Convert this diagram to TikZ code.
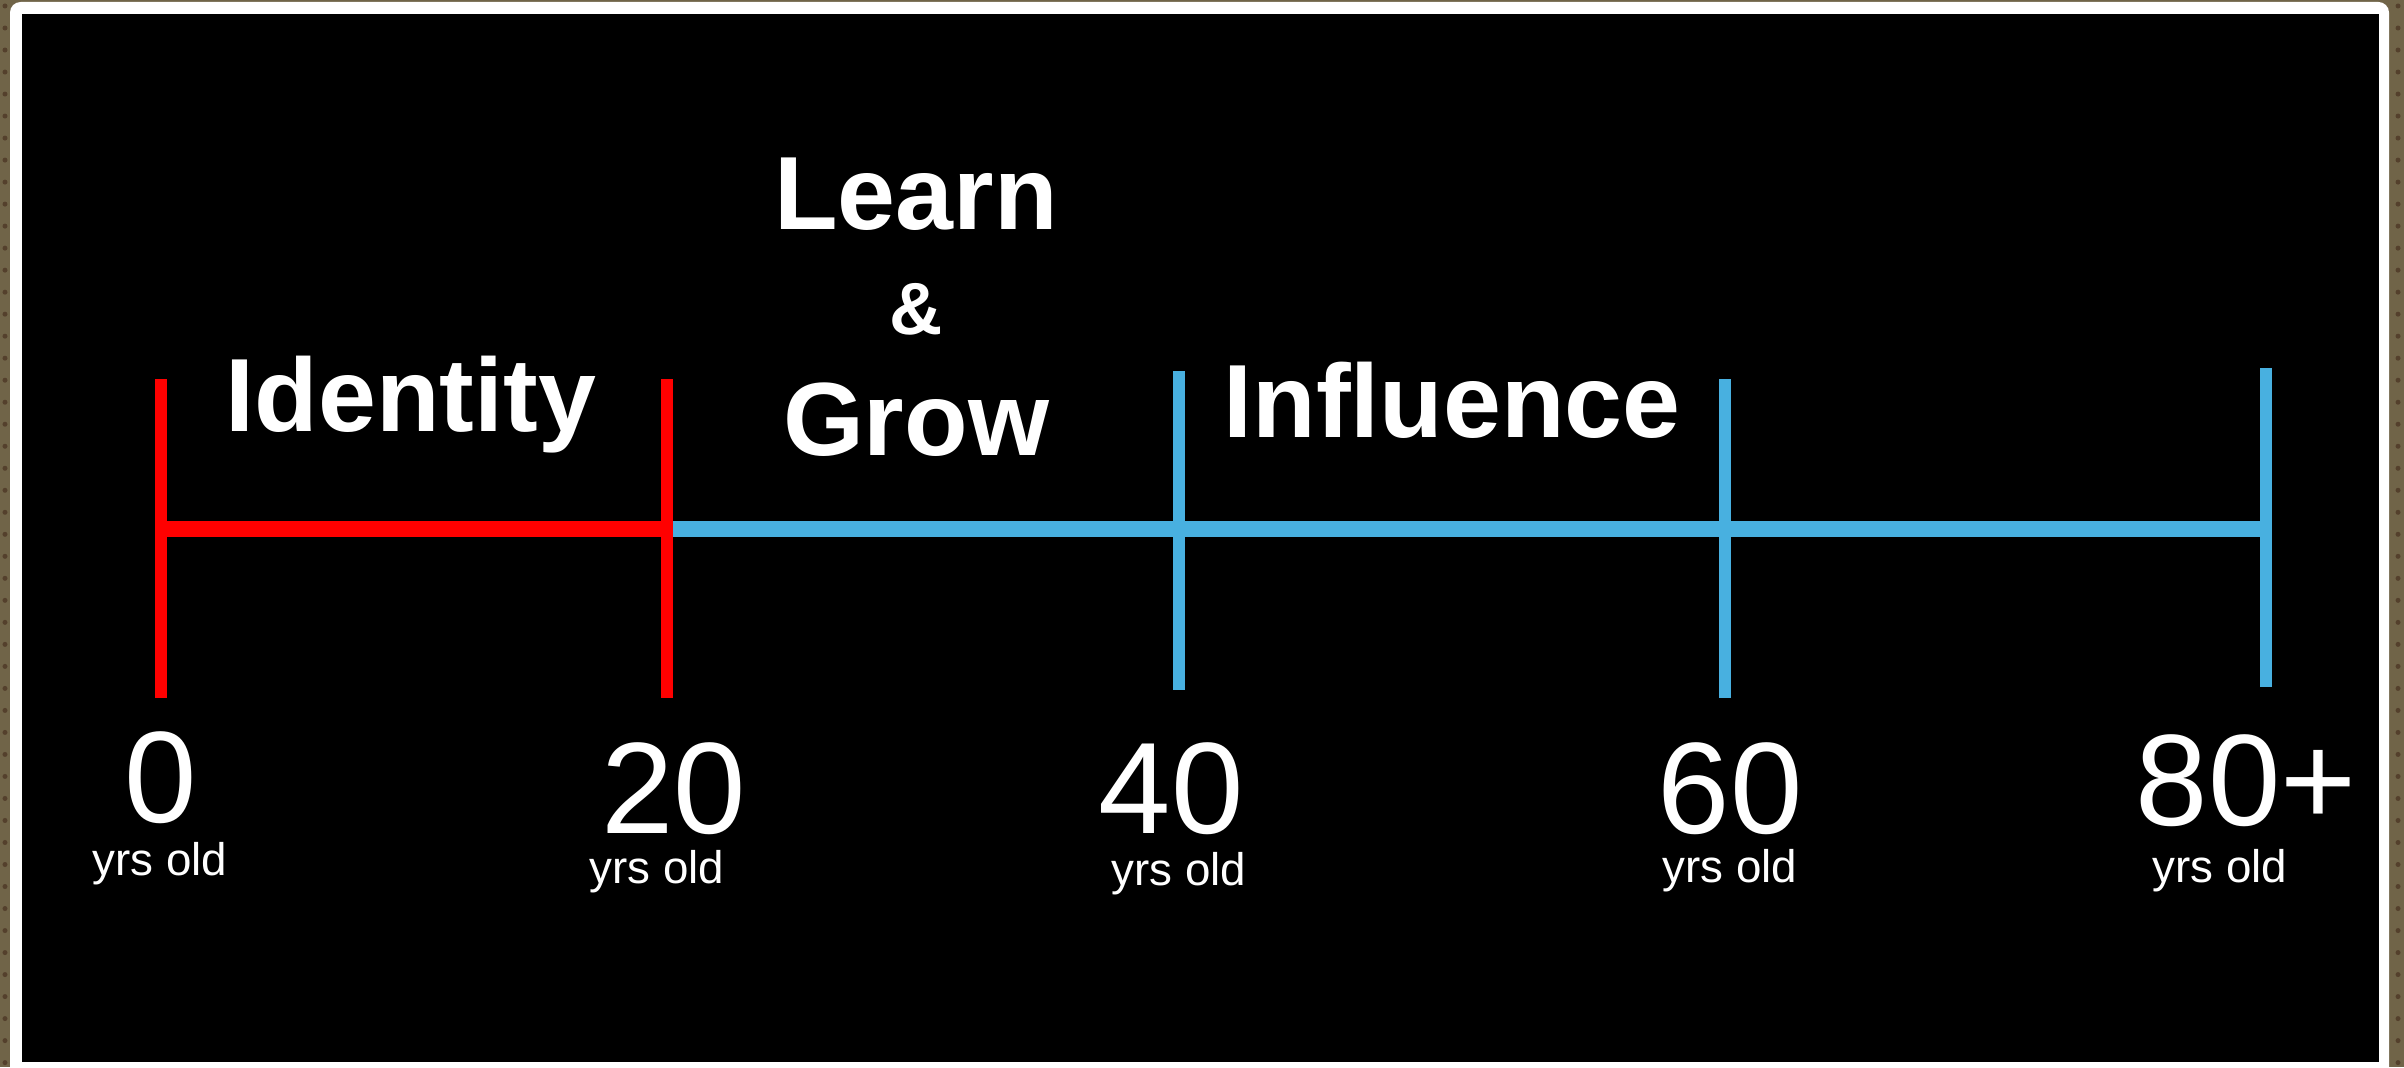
\documentclass[tikz,border=0pt]{standalone}
\usepackage{fontspec}
\setmainfont{Liberation Sans}
\usepackage{xcolor}
\definecolor{lifered}{RGB}{255,0,0}
\definecolor{lifeblue}{RGB}{72,176,224}
\definecolor{cork}{RGB}{112,100,72}
\definecolor{corkdot}{RGB}{84,64,44}

\begin{document}
\begin{tikzpicture}[x=0.01cm,y=-0.01cm,
  head/.style={text=white,font=\bfseries\fontsize{29.6}{30}\selectfont,anchor=base,inner sep=0pt},
  amp/.style={text=white,font=\bfseries\fontsize{21}{22}\selectfont,anchor=base,inner sep=0pt},
  age/.style={text=white,font=\fontsize{37}{38}\selectfont,anchor=base,inner sep=0pt},
  yrs/.style={text=white,font=\fontsize{13}{14}\selectfont,anchor=base,inner sep=0pt},
  bar/.style={line width=0.15cm},
  tick/.style={line width=0.12cm}]
\useasboundingbox (0,0) rectangle (2404,1067);
% board and frame
\fill[cork] (0,0) rectangle (2404,1067);
\draw[corkdot,line width=0.05cm,line cap=round,dash pattern=on 0pt off 0.22cm] (5,6) -- (5,1067);
\draw[corkdot,line width=0.05cm,line cap=round,dash pattern=on 0pt off 0.22cm] (2398,6) -- (2398,1067);
\fill[white,rounded corners=3pt] (10,2) rectangle (2389,1090);
\fill[black] (22,14) rectangle (2379,1062);
% points on the line
\coordinate (a0) at (161,529);
\coordinate (a20) at (667,529);
\coordinate (a40) at (1179,529);
\coordinate (a60) at (1725,529);
\coordinate (a80) at (2266,529);
\coordinate (t0) at (161,379);
\coordinate (b0) at (161,698);
\coordinate (t20) at (667,379);
\coordinate (b20) at (667,698);
\coordinate (t40) at (1179,371);
\coordinate (b40) at (1179,690);
\coordinate (t60) at (1725,379);
\coordinate (b60) at (1725,698);
\coordinate (t80) at (2266,368);
\coordinate (b80) at (2266,687);
\draw[bar,lifered] (a0) -- (a20);
\draw[bar,lifeblue] (a20) -- (a80);
\draw[tick,lifered] (t0) -- (b0);
\draw[tick,lifered] (t20) -- (b20);
\draw[tick,lifeblue] (t40) -- (b40);
\draw[tick,lifeblue] (t60) -- (b60);
\draw[tick,lifeblue] (t80) -- (b80);
% stages
\node[head] (Id) at (411,432) {Identity};
\node[head] (Le) at (916,230) {Learn};
\node[amp] (An) at (916,334) {\&};
\node[head] (Gr) at (916,455) {Grow};
\node[head] (In) at (1452,437) {Influence};
% ages
\node[age] (N0) at (161,822) {0};
\node[age] (N20) at (674,833) {20};
\node[age] (N40) at (1171,833) {40};
\node[age] (N60) at (1730,833) {60};
\node[age] (N80) at (2246,825) {80+};
\node[yrs] (Y0) at (160,875) {yrs old};
\node[yrs] (Y20) at (657,883) {yrs old};
\node[yrs] (Y40) at (1179,885) {yrs old};
\node[yrs] (Y60) at (1730,882) {yrs old};
\node[yrs] (Y80) at (2220,882) {yrs old};
\end{tikzpicture}
\end{document}
